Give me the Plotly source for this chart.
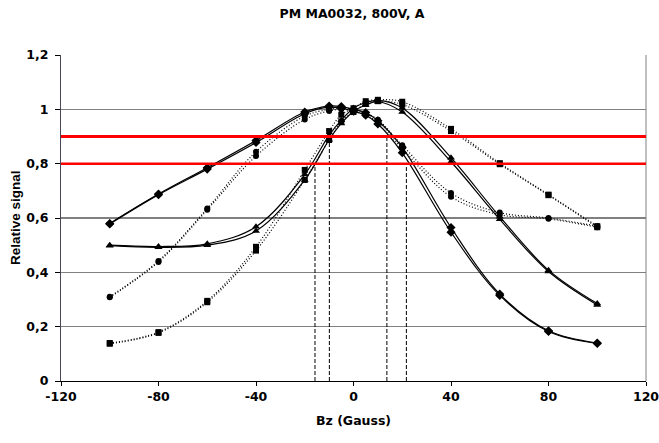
import plotly.graph_objects as go

# Magnetic field steps (Gauss)
bz = [-100, -80, -60, -40, -20, -10, -5, 0, 5, 10, 20, 40, 60, 80, 100]

# Relative signal, two runs per pixel group
diamond_run1 = [0.580, 0.688, 0.785, 0.885, 0.990, 1.012, 1.010, 1.000, 0.988, 0.958, 0.860, 0.565, 0.320, 0.185, 0.140]
diamond_run2 = [0.578, 0.686, 0.780, 0.878, 0.984, 1.008, 1.004, 0.993, 0.978, 0.946, 0.840, 0.548, 0.315, 0.182, 0.138]

triangle_run1 = [0.500, 0.495, 0.505, 0.568, 0.760, 0.905, 0.960, 1.004, 1.025, 1.033, 1.005, 0.822, 0.605, 0.408, 0.285]
triangle_run2 = [0.498, 0.492, 0.500, 0.552, 0.740, 0.888, 0.948, 0.992, 1.016, 1.028, 0.990, 0.807, 0.595, 0.403, 0.280]

circle_run1 = [0.310, 0.442, 0.635, 0.844, 0.975, 1.000, 1.005, 1.000, 0.985, 0.962, 0.868, 0.692, 0.620, 0.600, 0.570]
circle_run2 = [0.308, 0.438, 0.630, 0.828, 0.963, 0.994, 1.000, 0.994, 0.978, 0.954, 0.856, 0.678, 0.612, 0.597, 0.566]

square_run1 = [0.140, 0.180, 0.295, 0.494, 0.777, 0.920, 0.980, 1.004, 1.030, 1.035, 1.028, 0.928, 0.802, 0.686, 0.570]
square_run2 = [0.137, 0.177, 0.290, 0.480, 0.740, 0.887, 0.955, 0.990, 1.020, 1.030, 1.018, 0.920, 0.798, 0.684, 0.566]

# Axis ticks
bz_ticks = [-120, -80, -40, 0, 40, 80, 120]
bz_tick_labels = ["-120", "-80", "-40", "0", "40", "80", "120"]

# Threshold levels and the field values where the curves cross them
thresholds = [0.9, 0.8]
crossing_bz = [-15.8, -9.9, 13.7, 21.7]
crossing_level = [0.8, 0.9, 0.9, 0.8]
reference_level = 0.6

fig = go.Figure()

def add_series(y, symbol, size, dash, width):
    fig.add_trace(go.Scatter(
        x=bz, y=y, mode="lines+markers",
        line=dict(color="black", width=width, dash=dash, shape="spline", smoothing=1),
        marker=dict(symbol=symbol, size=size, color="black"),
        showlegend=False, hoverinfo="x+y",
    ))

add_series(circle_run1, "circle", 6, "1px,2px", 1.2)
add_series(circle_run2, "circle", 6, "1px,2px", 1.2)
add_series(square_run1, "square", 6, "1px,2px", 1.2)
add_series(square_run2, "square", 6, "1px,2px", 1.2)
add_series(diamond_run1, "diamond", 7, "solid", 1.2)
add_series(diamond_run2, "diamond", 7, "solid", 1.2)
add_series(triangle_run1, "triangle-up", 7, "solid", 1.2)
add_series(triangle_run2, "triangle-up", 7, "solid", 1.2)

# Vertical markers at the threshold crossings
for xc, lvl in zip(crossing_bz, crossing_level):
    fig.add_trace(go.Scatter(
        x=[xc, xc], y=[0, lvl], mode="lines",
        line=dict(color="black", width=1, dash="4px,2px"),
        showlegend=False, hoverinfo="skip",
    ))

shapes = [
    dict(type="line", xref="paper", x0=0, x1=1, yref="y", y0=reference_level, y1=reference_level,
         line=dict(color="black", width=1), layer="below"),
    dict(type="line", xref="paper", x0=1, x1=1, yref="paper", y0=0, y1=1,
         line=dict(color="#808080", width=1), layer="below"),
]
for lvl, w in zip(thresholds, [3, 2.5]):
    shapes.append(dict(type="line", xref="paper", x0=0, x1=1, yref="y", y0=lvl, y1=lvl,
                       line=dict(color="#ff0000", width=w), layer="above"))

tick_font = dict(family="DejaVu Sans", size=12.5, color="black", weight="bold")

fig.update_layout(
    width=659, height=443,
    margin=dict(l=61, r=13, t=55, b=62),
    paper_bgcolor="white", plot_bgcolor="white",
    separators=", ",
    showlegend=False,
    shapes=shapes,
    title=dict(text="<b>PM MA0032, 800V, A</b>", x=352 / 659, xanchor="center",
               y=1 - 14 / 443, yanchor="middle",
               font=dict(family="DejaVu Sans", size=12.5, color="black")),
    xaxis=dict(range=[-120, 120], tickvals=bz_ticks, ticktext=bz_tick_labels,
               showgrid=False, zeroline=False, showline=True, linecolor="black", linewidth=1,
               ticks="outside", ticklen=4, tickcolor="black", tickfont=tick_font,
               automargin=False, ticklabeloverflow="allow"),
    yaxis=dict(range=[0, 1.2], dtick=0.2, tick0=0,
               showgrid=True, gridcolor="#808080", gridwidth=1, zeroline=False,
               showline=True, linecolor="#4a4458", linewidth=1,
               ticks="outside", ticklen=5, tickcolor="black", tickfont=tick_font,
               ticklabelstandoff=4, automargin=False, ticklabeloverflow="allow"),
    annotations=[
        dict(text="<b>Bz (Gauss)</b>", xref="paper", yref="paper", x=0.5, y=-39 / 326,
             xanchor="center", yanchor="middle", showarrow=False,
             font=dict(family="DejaVu Sans", size=12.5, color="black")),
        dict(text="<b>Relative signal</b>", xref="paper", yref="paper", x=-46 / 585, y=0.5,
             xanchor="center", yanchor="middle", textangle=-90, showarrow=False,
             font=dict(family="Liberation Sans", size=13.5, color="black")),
    ],
)

fig.write_html("out.html")
